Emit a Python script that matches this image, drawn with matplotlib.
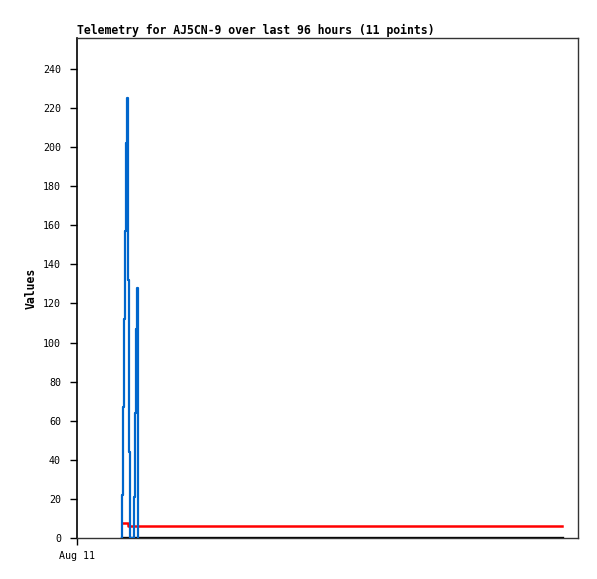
import matplotlib
matplotlib.use('Agg')
import matplotlib.pyplot as plt

# hours since Aug 11 00:00
blue_t = [9.88, 9.88, 10.10, 10.32, 10.54, 10.76, 10.98, 11.19, 11.41, 11.63,
          12.37, 12.59, 12.81, 13.03, 13.24, 13.38]
blue_v = [0, 22, 67, 112, 157, 202, 225, 132, 44, 0,
          21, 64, 107, 128, 64, 0]

red_t = [9.82, 11.13, 105.82]
red_v = [7.5, 6.3, 6.3]

black_t = [9.82, 105.82]
black_v = [0, 0]

y_ticks = list(range(0, 241, 20))
x_ticks = [0]
x_labels = ['Aug 11']
title = 'Telemetry for AJ5CN-9 over last 96 hours (11 points)'

fig = plt.figure(figsize=(5.97, 5.79), dpi=100)
ax = fig.add_axes([77/597, 41/579, 501/597, 500/579])

ax.plot(black_t, black_v, color='black', lw=2.4, drawstyle='steps-post', zorder=2)
ax.plot(red_t, red_v, color='#ff0000', lw=1.8, drawstyle='steps-post', zorder=3)
ax.plot(blue_t, blue_v, color='#0066cc', lw=1.6, drawstyle='steps-post', zorder=4)

ax.set_xlim(0, 109.3)
ax.set_ylim(0, 255.8)

ax.set_yticks(y_ticks)
ax.set_xticks(x_ticks)
ax.set_xticklabels(x_labels)
ax.tick_params(axis='y', direction='out', length=5, width=1, pad=6.5,
               labelsize=7.2, labelfontfamily='DejaVu Sans Mono')
ax.tick_params(axis='x', direction='out', length=5, width=1, pad=4.5,
               labelsize=7.2, labelfontfamily='DejaVu Sans Mono')

for side in ['top', 'right', 'bottom']:
    ax.spines[side].set_color('#333333')
    ax.spines[side].set_linewidth(1)
ax.spines['left'].set_color('black')
ax.spines['left'].set_linewidth(1.2)

ax.set_title(title, loc='left', fontfamily='DejaVu Sans Mono', fontweight='bold',
             fontsize=8.3, pad=3)
ax.set_ylabel('Values', fontfamily='DejaVu Sans Mono', fontweight='bold', fontsize=8.3)
ax.yaxis.set_label_coords(-0.078, 0.5)

fig.savefig('out.png', dpi=100, facecolor='white')
